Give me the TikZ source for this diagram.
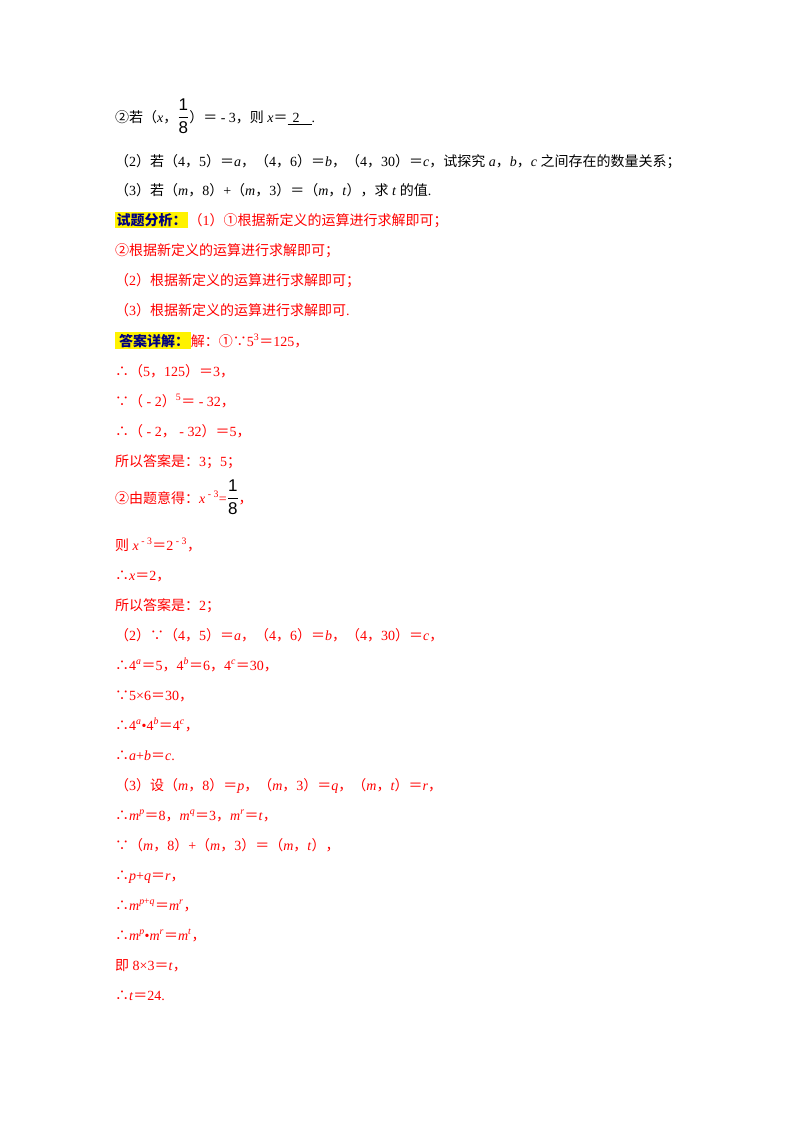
\documentclass[tikz,border=0pt]{standalone}
\usepackage{amsmath}
\usepackage{fontspec}
\setmainfont{Liberation Serif}
\newfontfamily\cjkf{Noto Sans CJK SC}
\newfontfamily\fracf{Liberation Sans}
\newcommand{\zh}[1]{{\cjkf #1}}
\newcommand{\I}[1]{\textit{#1}}
\newcommand{\frc}{{\fontsize{17}{18}\selectfont\fracf$\dfrac{\text{1}}{\text{8}}$}}
\begin{document}
\begin{tikzpicture}[x=1pt,y=-1pt,
  ln/.style={anchor=base west,inner sep=0pt,font=\fontsize{14}{16}\selectfont},
  rd/.style={ln,text=red},
  tag/.style={anchor=base west,inner sep=1.5pt,fill=yellow,text=blue!50!black,font=\fontsize{14}{16}\selectfont\cjkf\bfseries}]
\useasboundingbox (0,0) rectangle (800,1132);
\node[ln] (l1) at (115,122) {\zh{②若（}\I{x}\zh{，}\frc\zh{）＝} - 3\zh{，则} \I{x}\zh{＝}\underline{\hspace{5pt}2\hspace{12pt}}.};
\node[ln] (l2) at (115,166) {\zh{（}2\zh{）若（}4\zh{，}5\zh{）＝}\I{a}\zh{，（}4\zh{，}6\zh{）＝}\I{b}\zh{，（}4\zh{，}30\zh{）＝}\I{c}\zh{，试探究} \I{a}\zh{，}\I{b}\zh{，}\I{c} \zh{之间存在的数量关系；}};
\node[ln] (l3) at (115,195) {\zh{（}3\zh{）若（}\I{m}\zh{，}8\zh{）}+\zh{（}\I{m}\zh{，}3\zh{）＝（}\I{m}\zh{，}\I{t}\zh{），求} \I{t} \zh{的值}.};
\node[tag] (t1) at (115,225) {试题分析：};
\node[rd,anchor=base west] (l4) at (t1.base east) {\zh{（}1\zh{）①根据新定义的运算进行求解即可；}};
\node[rd] (l5) at (115,255) {\zh{②根据新定义的运算进行求解即可；}};
\node[rd] (l6) at (115,285) {\zh{（}2\zh{）根据新定义的运算进行求解即可；}};
\node[rd] (l7) at (115,315) {\zh{（}3\zh{）根据新定义的运算进行求解即可}.};
\node[tag] (t2) at (115,346) {\,答案详解：};
\node[rd,anchor=base west] (l8) at (t2.base east) {\zh{解：①∵}5\textsuperscript{3}\zh{＝}125\zh{，}};
\node[rd] (l9) at (115,376) {\zh{∴（}5\zh{，}125\zh{）＝}3\zh{，}};
\node[rd] (l10) at (115,406) {\zh{∵（} - 2\zh{）}\textsuperscript{5}\zh{＝} - 32\zh{，}};
\node[rd] (l11) at (115,436) {\zh{∴（} - 2\zh{，} - 32\zh{）＝}5\zh{，}};
\node[rd] (l12) at (115,466) {\zh{所以答案是：}3\zh{；}5\zh{；}};
\node[rd] (l13) at (115,503) {\zh{②由题意得：}\I{x}\textsuperscript{ - 3}=\textcolor{black}{\frc}\zh{，}};
\node[rd] (l14) at (115,550) {\zh{则} \I{x}\textsuperscript{ - 3}\zh{＝}2\textsuperscript{ - 3}\zh{，}};
\node[rd] (l15) at (115,580) {\zh{∴}\I{x}\zh{＝}2\zh{，}};
\node[rd] (l16) at (115,610) {\zh{所以答案是：}2\zh{；}};
\node[rd] (l17) at (115,640) {\zh{（}2\zh{）∵（}4\zh{，}5\zh{）＝}\I{a}\zh{，（}4\zh{，}6\zh{）＝}\I{b}\zh{，（}4\zh{，}30\zh{）＝}\I{c}\zh{，}};
\node[rd] (l18) at (115,670) {\zh{∴}4\textsuperscript{\I{a}}\zh{＝}5\zh{，}4\textsuperscript{\I{b}}\zh{＝}6\zh{，}4\textsuperscript{\I{c}}\zh{＝}30\zh{，}};
\node[rd] (l19) at (115,700) {\zh{∵}5×6\zh{＝}30\zh{，}};
\node[rd] (l20) at (115,730) {\zh{∴}4\textsuperscript{\I{a}}•4\textsuperscript{\I{b}}\zh{＝}4\textsuperscript{\I{c}}\zh{，}};
\node[rd] (l21) at (115,760) {\zh{∴}\I{a}+\I{b}\zh{＝}\I{c}.};
\node[rd] (l22) at (115,790) {\zh{（}3\zh{）设（}\I{m}\zh{，}8\zh{）＝}\I{p}\zh{，（}\I{m}\zh{，}3\zh{）＝}\I{q}\zh{，（}\I{m}\zh{，}\I{t}\zh{）＝}\I{r}\zh{，}};
\node[rd] (l23) at (115,820) {\zh{∴}\I{m}\textsuperscript{\I{p}}\zh{＝}8\zh{，}\I{m}\textsuperscript{\I{q}}\zh{＝}3\zh{，}\I{m}\textsuperscript{\I{r}}\zh{＝}\I{t}\zh{，}};
\node[rd] (l24) at (115,850) {\zh{∵（}\I{m}\zh{，}8\zh{）}+\zh{（}\I{m}\zh{，}3\zh{）＝（}\I{m}\zh{，}\I{t}\zh{），}};
\node[rd] (l25) at (115,880) {\zh{∴}\I{p}+\I{q}\zh{＝}\I{r}\zh{，}};
\node[rd] (l26) at (115,910) {\zh{∴}\I{m}\textsuperscript{\I{p}+\I{q}}\zh{＝}\I{m}\textsuperscript{\I{r}}\zh{，}};
\node[rd] (l27) at (115,940) {\zh{∴}\I{m}\textsuperscript{\I{p}}•\I{m}\textsuperscript{\I{r}}\zh{＝}\I{m}\textsuperscript{\I{t}}\zh{，}};
\node[rd] (l28) at (115,970) {\zh{即} 8×3\zh{＝}\I{t}\zh{，}};
\node[rd] (l29) at (115,1000) {\zh{∴}\I{t}\zh{＝}24.};
\end{tikzpicture}
\end{document}
